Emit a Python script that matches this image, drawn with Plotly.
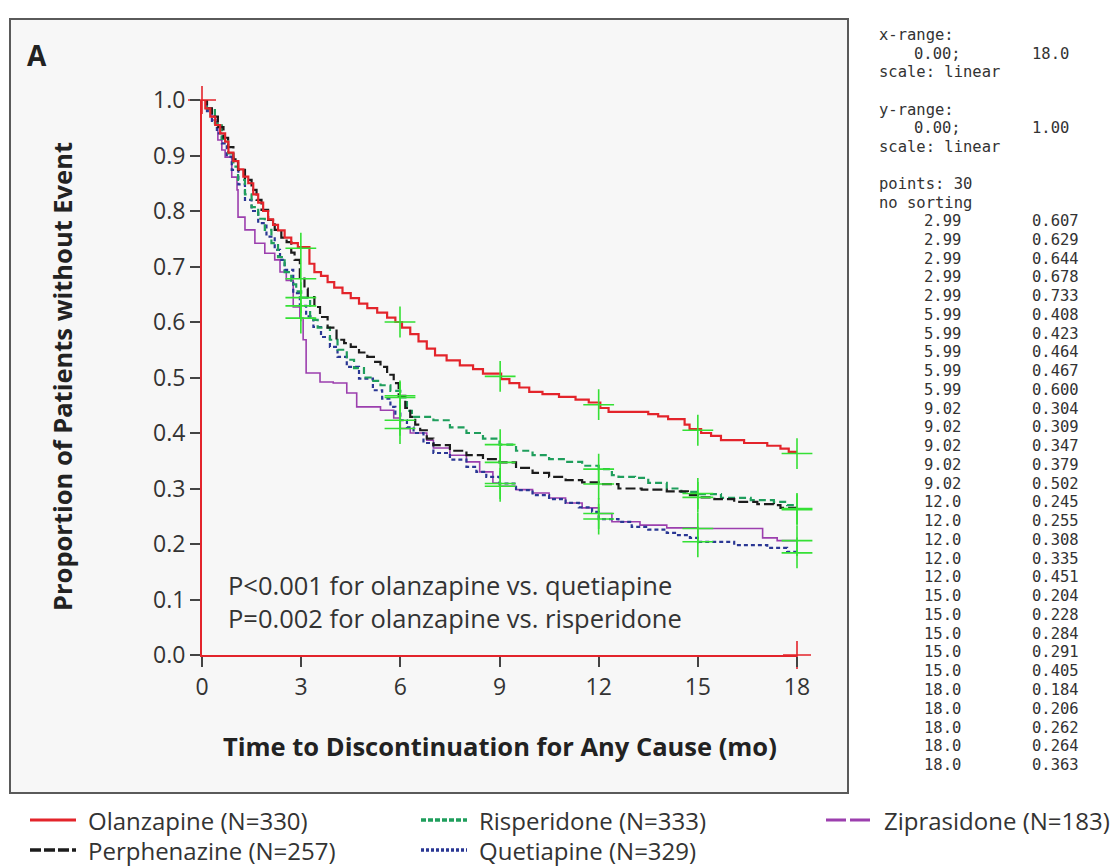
import plotly.graph_objects as go

# ---------------- data ----------------
olanzapine = [(0, 1.0), (0.1, 0.985), (0.25, 0.97), (0.4, 0.955), (0.55, 0.94), (0.7, 0.925), (0.8, 0.905),
              (0.95, 0.89), (1.1, 0.875), (1.25, 0.862), (1.4, 0.85), (1.55, 0.83), (1.7, 0.815), (1.85, 0.80),
              (2.0, 0.785), (2.15, 0.775), (2.3, 0.765), (2.5, 0.752), (2.7, 0.742), (2.9, 0.735), (3.25, 0.705),
              (3.4, 0.69), (3.6, 0.683), (3.8, 0.672), (4.0, 0.662), (4.25, 0.652), (4.5, 0.643), (4.75, 0.633),
              (5.0, 0.625), (5.3, 0.617), (5.6, 0.608), (5.85, 0.600), (6.05, 0.59), (6.3, 0.578), (6.55, 0.565),
              (6.8, 0.552), (7.05, 0.54), (7.4, 0.531), (7.8, 0.522), (8.2, 0.515), (8.5, 0.507), (9.05, 0.497),
              (9.3, 0.49), (9.6, 0.482), (9.9, 0.474), (10.3, 0.47), (10.8, 0.465), (11.3, 0.46), (11.7, 0.455),
              (12.05, 0.445), (12.3, 0.438), (13.5, 0.434), (13.8, 0.43), (14.1, 0.425), (14.6, 0.415),
              (14.75, 0.407), (15.1, 0.40), (15.4, 0.395), (15.7, 0.387), (16.4, 0.382), (17.1, 0.377),
              (17.5, 0.372), (17.75, 0.366), (18.0, 0.363)]

perphenazine = [(0, 1.0), (0.15, 0.985), (0.3, 0.97), (0.48, 0.951), (0.65, 0.932), (0.79, 0.915), (0.95, 0.893),
                (1.09, 0.874), (1.3, 0.856), (1.5, 0.838), (1.65, 0.82), (1.8, 0.802), (2.0, 0.784), (2.2, 0.766),
                (2.4, 0.752), (2.56, 0.744), (2.7, 0.725), (2.8, 0.712), (2.96, 0.678), (3.1, 0.66), (3.2, 0.645),
                (3.4, 0.627), (3.57, 0.609), (3.8, 0.59), (4.07, 0.568), (4.3, 0.562), (4.5, 0.555), (4.75, 0.545),
                (5.0, 0.537), (5.2, 0.528), (5.4, 0.519), (5.6, 0.505), (5.8, 0.49), (5.95, 0.467), (6.15, 0.445),
                (6.3, 0.429), (6.45, 0.415), (6.6, 0.405), (6.8, 0.39), (7.0, 0.378), (7.5, 0.368), (8.0, 0.36),
                (8.5, 0.353), (9.0, 0.347), (9.5, 0.337), (10.0, 0.328), (10.5, 0.321), (11.0, 0.315),
                (11.5, 0.311), (12.0, 0.308), (12.6, 0.30), (13.3, 0.298), (14.06, 0.295), (14.7, 0.288),
                (15.0, 0.284), (15.5, 0.281), (16.1, 0.276), (16.8, 0.272), (17.3, 0.27), (17.5, 0.265),
                (18.0, 0.262)]

risperidone = [(0, 1.0), (0.15, 0.985), (0.39, 0.958), (0.6, 0.93), (0.79, 0.904), (0.95, 0.88), (1.09, 0.856),
               (1.3, 0.83), (1.5, 0.807), (1.7, 0.786), (1.9, 0.766), (2.1, 0.742), (2.3, 0.717), (2.5, 0.69),
               (2.7, 0.668), (2.85, 0.655), (3.0, 0.644), (3.27, 0.604), (3.5, 0.59), (3.87, 0.568), (4.1, 0.55),
               (4.38, 0.532), (4.6, 0.517), (4.9, 0.5), (5.1, 0.494), (5.4, 0.486), (5.7, 0.476), (6.0, 0.464),
               (6.2, 0.44), (6.35, 0.429), (7.0, 0.423), (7.5, 0.41), (8.0, 0.4), (8.5, 0.39), (9.0, 0.379),
               (9.5, 0.368), (10.0, 0.36), (10.5, 0.353), (11.0, 0.348), (11.5, 0.341), (12.0, 0.335),
               (12.4, 0.324), (12.6, 0.321), (13.1, 0.319), (13.5, 0.31), (14.06, 0.30), (14.5, 0.294),
               (15.0, 0.29), (15.7, 0.283), (16.6, 0.279), (17.3, 0.276), (17.7, 0.27), (18.0, 0.264)]

quetiapine = [(0, 1.0), (0.15, 0.98), (0.3, 0.96), (0.45, 0.94), (0.6, 0.922), (0.75, 0.898), (0.9, 0.874),
              (1.1, 0.848), (1.3, 0.82), (1.5, 0.80), (1.7, 0.778), (1.95, 0.754), (2.2, 0.73), (2.36, 0.712),
              (2.5, 0.694), (2.76, 0.652), (2.96, 0.629), (3.15, 0.61), (3.37, 0.591), (3.6, 0.573), (3.87, 0.555),
              (4.1, 0.537), (4.38, 0.519), (4.75, 0.498), (5.17, 0.477), (5.45, 0.462), (5.7, 0.447), (5.85, 0.435),
              (6.0, 0.423), (6.2, 0.41), (6.4, 0.40), (6.7, 0.382), (7.0, 0.364), (7.5, 0.352), (8.0, 0.339),
              (8.3, 0.33), (8.6, 0.321), (9.0, 0.309), (9.5, 0.297), (10.0, 0.288), (10.5, 0.281), (11.0, 0.274),
              (11.4, 0.266), (11.8, 0.258), (12.0, 0.245), (12.6, 0.24), (13.0, 0.231), (13.5, 0.226),
              (14.06, 0.22), (14.4, 0.216), (14.76, 0.211), (15.0, 0.204), (16.1, 0.198), (17.1, 0.193),
              (17.7, 0.186), (18.0, 0.184)]

ziprasidone = [(0, 1.0), (0.12, 0.985), (0.3, 0.964), (0.48, 0.928), (0.6, 0.91), (0.7, 0.897), (0.9, 0.861),
               (1.06, 0.838), (1.09, 0.789), (1.3, 0.766), (1.6, 0.742), (1.9, 0.724), (2.2, 0.712), (2.36, 0.69),
               (2.55, 0.675), (2.76, 0.627), (2.96, 0.607), (3.06, 0.568), (3.15, 0.508), (3.57, 0.492),
               (3.97, 0.49), (4.38, 0.472), (4.68, 0.447), (5.4, 0.441), (5.8, 0.427), (6.0, 0.408), (6.3, 0.40),
               (6.8, 0.387), (7.0, 0.373), (7.5, 0.36), (8.0, 0.348), (8.4, 0.33), (8.8, 0.31), (9.0, 0.304),
               (9.5, 0.298), (10.0, 0.292), (10.5, 0.283), (11.0, 0.274), (11.5, 0.265), (12.0, 0.255),
               (12.4, 0.24), (13.25, 0.234), (14.06, 0.229), (15.0, 0.228), (16.96, 0.211), (17.4, 0.206),
               (18.0, 0.206)]

cross_x = [2.99] * 5 + [5.99] * 5 + [9.02] * 5 + [12.0] * 5 + [15.0] * 5 + [18.0] * 5
cross_y = [0.607, 0.629, 0.644, 0.678, 0.733,
           0.408, 0.423, 0.464, 0.467, 0.600,
           0.304, 0.309, 0.347, 0.379, 0.502,
           0.245, 0.255, 0.308, 0.335, 0.451,
           0.204, 0.228, 0.284, 0.291, 0.405,
           0.184, 0.206, 0.262, 0.264, 0.363]

# calibration corners
calib_x = [0, 18]
calib_y = [1.0, 0.0]

x_range = [0, 18]
y_range = [0, 1.0]
x_ticks = [0, 3, 6, 9, 12, 15, 18]
y_ticks = [0.0, 0.1, 0.2, 0.3, 0.4, 0.5, 0.6, 0.7, 0.8, 0.9, 1.0]

series_names = ["Olanzapine (N=330)", "Perphenazine (N=257)", "Risperidone (N=333)",
                "Quetiapine (N=329)", "Ziprasidone (N=183)"]

# ---------------- styling ----------------
RED = "#e3242b"
BLACK = "#1c1c1c"
GREEN = "#1f9e5c"
BLUE = "#2a3794"
PURPLE = "#9c3fae"
LIME = "#35e035"
TXT = "#333333"
FONT = "Open Sans"

W, H = 1120, 867
L_PX, R_PX, T_PX, B_PX = 202, 797, 100, 655


def px2x(px):
    return (px - L_PX) / (R_PX - L_PX)


def py2y(py):
    return (B_PX - py) / (B_PX - T_PX)


fig = go.Figure()

styles = [
    (olanzapine, RED, "solid", 2.2),
    (perphenazine, BLACK, "10px,4px", 2.2),
    (risperidone, GREEN, "7px,4px", 2.2),
    (quetiapine, BLUE, "4px,3px", 2.2),
    (ziprasidone, PURPLE, "solid", 1.6),
]
# draw order: purple, blue, green, black, red (red on top)
for idx in [4, 3, 2, 1, 0]:
    data, col, dash, w = styles[idx]
    fig.add_trace(go.Scatter(
        x=[p[0] for p in data], y=[p[1] for p in data],
        mode="lines", line=dict(color=col, width=w, dash=dash, shape="hv"),
        name=series_names[idx], showlegend=False, cliponaxis=False))

fig.add_trace(go.Scatter(x=cross_x, y=cross_y, mode="markers",
                         marker=dict(symbol="cross-thin", size=22, line=dict(color=LIME, width=1.6)),
                         showlegend=False, cliponaxis=False))
fig.add_trace(go.Scatter(x=calib_x, y=calib_y, mode="markers",
                         marker=dict(symbol="cross-thin", size=20, line=dict(color=RED, width=1.6)),
                         showlegend=False, cliponaxis=False))

shapes = []
# panel box
shapes.append(dict(type="rect", xref="paper", yref="paper", layer="below",
                   x0=px2x(10), x1=px2x(848), y0=py2y(793), y1=py2y(19),
                   fillcolor="#f7f7f7", line=dict(color="#5a5a5a", width=2)))

# legend swatches
leg_rows = [820, 850]
leg_items = [
    (0, 0, 30, RED, "solid", 3),
    (2, 0, 421, GREEN, "5px,2px", 3.5),
    (4, 0, 826, PURPLE, "20px,4px", 3),
    (1, 1, 30, BLACK, "11px,3px", 3.5),
    (3, 1, 421, BLUE, "3px,2px", 3.5),
]
annotations = []
for sidx, row, x0, col, dash, w in leg_items:
    shapes.append(dict(type="line", xref="paper", yref="paper",
                       x0=px2x(x0), x1=px2x(x0 + 46), y0=py2y(leg_rows[row]), y1=py2y(leg_rows[row]),
                       line=dict(color=col, width=w, dash=dash)))
    annotations.append(dict(xref="paper", yref="paper", x=px2x(x0 + 56), y=py2y(leg_rows[row]),
                            xanchor="left", yanchor="middle", showarrow=False,
                            text=series_names[sidx], font=dict(family=FONT, size=24, color=TXT)))

# panel label and titles
annotations.append(dict(xref="paper", yref="paper", x=px2x(25), y=py2y(55), xanchor="left", yanchor="middle",
                        showarrow=False, text="<b>A</b>", font=dict(family=FONT, size=28, color="#222")))
annotations.append(dict(xref="paper", yref="paper", x=px2x(62), y=py2y(377), xanchor="center", yanchor="middle",
                        showarrow=False, textangle=-90, text="<b>Proportion of Patients without Event</b>",
                        font=dict(family=FONT, size=25.5, color="#222")))
annotations.append(dict(xref="paper", yref="paper", x=px2x(500), y=py2y(746), xanchor="center", yanchor="middle",
                        showarrow=False, text="<b>Time to Discontinuation for Any Cause (mo)</b>",
                        font=dict(family=FONT, size=25.5, color="#222")))
annotations.append(dict(xref="paper", yref="paper", x=px2x(226), y=py2y(585), xanchor="left", yanchor="middle",
                        showarrow=False, text="P<0.001 for olanzapine vs. quetiapine",
                        font=dict(family=FONT, size=25.5, color=TXT)))
annotations.append(dict(xref="paper", yref="paper", x=px2x(226), y=py2y(618), xanchor="left", yanchor="middle",
                        showarrow=False, text="P=0.002 for olanzapine vs. risperidone",
                        font=dict(family=FONT, size=25.5, color=TXT)))

# right-hand listing
MONO = dict(family="DejaVu Sans Mono", size=15.5, color=TXT)


def mono(px, py, text, anchor="left"):
    annotations.append(dict(xref="paper", yref="paper", x=px2x(px), y=py2y(py), xanchor=anchor,
                            yanchor="middle", showarrow=False, text=text, font=MONO))


def fmt_x(v):
    return f"{v:.1f}" if v >= 10 else f"{v:.2f}"


mono(877, 35, "x-range:")
mono(963, 54, f"{x_range[0]:.2f};", "right")
mono(1030, 54, f"{float(x_range[1]):.1f}")
mono(877, 72, "scale: linear")
mono(877, 110, "y-range:")
mono(963, 128, f"{y_range[0]:.2f};", "right")
mono(1030, 128, f"{y_range[1]:.2f}")
mono(877, 147, "scale: linear")
mono(877, 184, f"points: {len(cross_x)}")
mono(877, 203, "no sorting")
for i, (cx, cy) in enumerate(zip(cross_x, cross_y)):
    py = 221 + i * 18.76
    mono(963, py, fmt_x(cx), "right")
    mono(1030, py, f"{cy:.3f}")

axis_common = dict(showgrid=False, zeroline=False, showline=True, linecolor=RED, linewidth=2,
                   ticks="outside", tickcolor="#444", tickwidth=2, ticklen=10,
                   tickfont=dict(family=FONT, size=23, color=TXT))

fig.update_layout(
    width=W, height=H, autosize=False,
    margin=dict(l=L_PX, r=W - R_PX, t=T_PX, b=H - B_PX, pad=0),
    paper_bgcolor="white", plot_bgcolor="rgba(0,0,0,0)",
    xaxis=dict(range=x_range, tickvals=x_ticks, ticktext=[str(t) for t in x_ticks], **axis_common),
    yaxis=dict(range=y_range, tickvals=y_ticks, ticktext=[f"{t:.1f}" for t in y_ticks], **axis_common),
    shapes=shapes, annotations=annotations, showlegend=False,
)

fig.write_html("out.html", config={"displayModeBar": False},
               post_script="document.body.style.margin='0px';document.body.style.overflow='hidden';")
